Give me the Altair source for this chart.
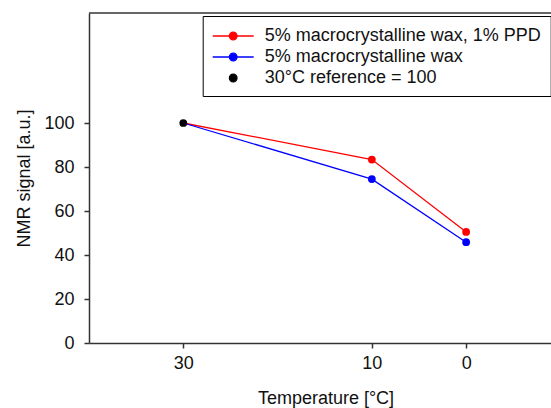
import altair as alt
import pandas as pd

# ---- data ----
temps = [30, 10, 0]
ppd_wax = [100, 83.4, 50.5]
wax = [100, 74.5, 45.8]
ref_temp = [30]
ref_value = [100]

s_ppd = "5% macrocrystalline wax, 1% PPD"
s_wax = "5% macrocrystalline wax"
s_ref = "30°C reference = 100"
series_names = [s_ppd, s_wax, s_ref]
series_colors = ["#ff0000", "#0000ff", "#000000"]

y_ticks = [0, 20, 40, 60, 80, 100]
x_ticks = [30, 10, 0]

lines_df = pd.DataFrame(
    {"temp": temps * 2, "value": ppd_wax + wax, "series": [s_ppd] * 3 + [s_wax] * 3}
)
points_df = pd.DataFrame(
    {
        "temp": temps[1:] + temps[1:] + ref_temp,
        "value": ppd_wax[1:] + wax[1:] + ref_value,
        "series": [s_ppd] * 2 + [s_wax] * 2 + [s_ref],
    }
)

FONT = "Liberation Sans"
TXT = "#111111"
AX = "#333333"

# legend symbol shapes: line with dot / dot only (custom paths)
line_dot = "M-1,0H3.1M1.43,0A0.38,0.38,0,1,1,0.67,0A0.38,0.38,0,1,1,1.43,0Z"
dot_only = "M1.43,0A0.38,0.38,0,1,1,0.67,0A0.38,0.38,0,1,1,1.43,0Z"

x_enc = alt.X(
    "temp:Q",
    scale=alt.Scale(domain=[40, -9], nice=False, zero=False),
    axis=alt.Axis(
        title="Temperature [°C]",
        values=x_ticks,
        grid=False,
        tickSize=5,
        labelPadding=6,
        titleX=236.5,
        titleY=55,
        titleBaseline="middle",
    ),
)
y_enc = alt.Y(
    "value:Q",
    scale=alt.Scale(domain=[0, 150], nice=False),
    axis=alt.Axis(
        title="NMR signal [a.u.]",
        values=y_ticks,
        grid=False,
        tickSize=5,
        labelPadding=10,
        titlePadding=10,
    ),
)


def cscale():
    return alt.Scale(domain=series_names, range=series_colors)


lines = alt.Chart(lines_df).mark_line(strokeWidth=1.3).encode(
    x=x_enc,
    y=y_enc,
    color=alt.Color("series:N", scale=cscale(), legend=None),
)

points = alt.Chart(points_df).mark_circle(size=60, opacity=1).encode(
    x=x_enc,
    y=y_enc,
    color=alt.Color("series:N", scale=cscale(), legend=None),
)

# layer that only supplies the legend (its rows come from the explicit scale domain)
legend_layer = (
    alt.Chart(points_df)
    .transform_filter(alt.datum.value < 0)
    .mark_point(filled=True, opacity=1)
    .encode(
        x=x_enc,
        y=y_enc,
        color=alt.Color(
            "series:N",
            scale=cscale(),
            legend=alt.Legend(
                title=None,
                orient="none",
                legendX=113.7,
                legendY=3,
                padding=9,
                symbolSize=400,
                symbolOpacity=1,
                symbolStrokeWidth=1.3,
                labelOffset=31,
                rowPadding=1,
                strokeColor="#000000",
                fillColor="#ffffff",
                labelFont=FONT,
                labelFontSize=18,
                labelColor=TXT,
                labelLimit=700,
                labelExpr="datum.label + '\u00a0\u00a0\u00a0'",
            ),
        ),
        stroke=alt.Stroke("series:N", scale=cscale()),
        shape=alt.Shape(
            "series:N",
            scale=alt.Scale(domain=series_names, range=[line_dot, line_dot, dot_only]),
        ),
    )
)

top_border = alt.Chart(pd.DataFrame({"v": [150]})).mark_rule(color=AX, strokeWidth=1.5).encode(
    y=alt.Y("v:Q", scale=alt.Scale(domain=[0, 150], nice=False))
)

chart = (
    alt.layer(top_border, lines, points, legend_layer)
    .resolve_scale(color="independent", stroke="independent", shape="independent")
    .properties(
        width=462,
        height=330,
        autosize=alt.AutoSizeParams(type="none"),
        padding={"left": 89, "top": 13, "right": 0, "bottom": 65},
    )
    .configure_view(stroke=None)
    .configure_axis(
        labelFont=FONT,
        titleFont=FONT,
        labelFontSize=18,
        titleFontSize=18,
        titleFontWeight="normal",
        labelColor=TXT,
        titleColor=TXT,
        domainColor=AX,
        domainWidth=1.5,
        tickColor=AX,
        tickWidth=1.5,
    )
)

chart.save("out.html", embed_options={"renderer": "svg", "actions": False})
